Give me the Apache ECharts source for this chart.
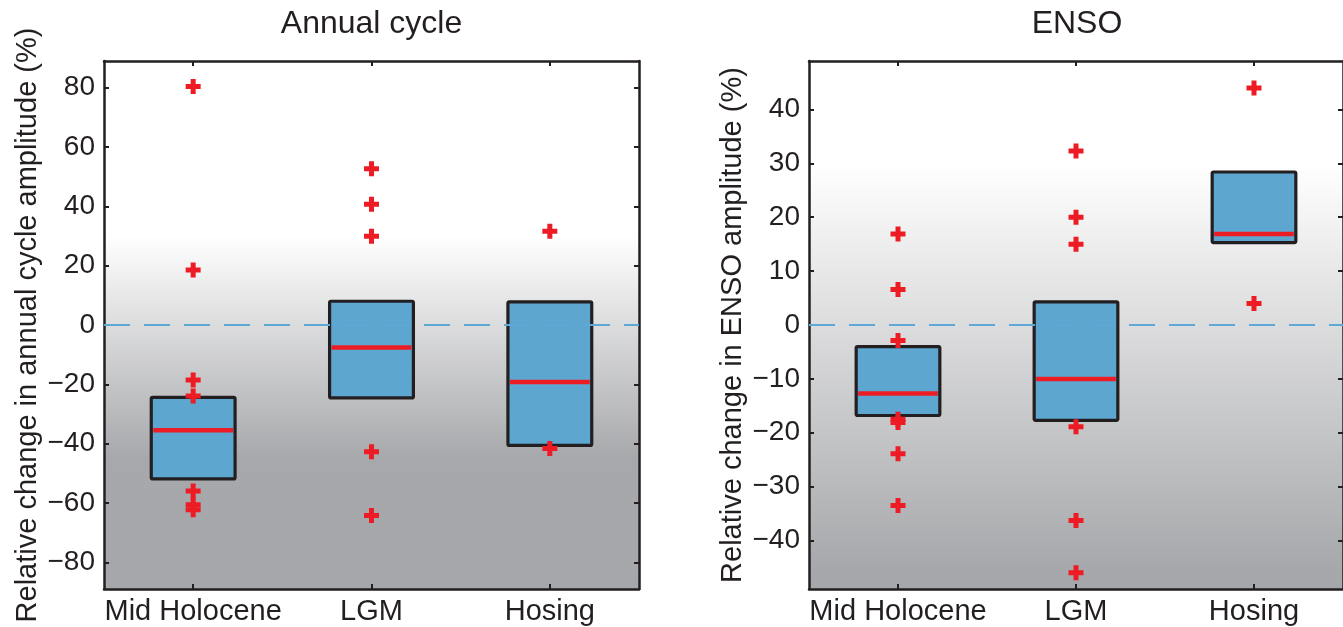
<!DOCTYPE html>
<html>
<head>
<meta charset="utf-8">
<title>Annual cycle and ENSO amplitude changes</title>
<script src="https://cdn.jsdelivr.net/npm/echarts@6/dist/echarts.min.js"></script>
<style>
  html, body { margin: 0; padding: 0; background: #ffffff; }
  #chart { width: 1343px; height: 627px; }
</style>
</head>
<body>
<div id="chart"></div>
<script>
// Experiments shown on the x axis of both panels
const categories = ['Mid Holocene', 'LGM', 'Hosing'];

// Annual cycle amplitude change (%): box = [lower quartile, median, upper quartile]
const annualBoxes = [
  [-51.9, -35.5, -24.4],
  [-24.6, -7.6, 8.0],
  [-40.6, -19.2, 7.8]
];
// Individual model values drawn outside the boxes
const annualMidHolocene = [80.4, 18.5, -18.5, -23.9, -56.0, -60.6, -62.3];
const annualLGM = [52.7, 40.7, 29.9, -42.7, -64.2];
const annualHosing = [31.6, -41.6];

// ENSO amplitude change (%)
const ensoBoxes = [
  [-16.8, -12.7, -4.0],
  [-17.7, -10.0, 4.3],
  [15.3, 16.9, 28.4]
];
const ensoMidHolocene = [16.9, 6.6, -2.9, -17.5, -18.1, -23.9, -33.5];
const ensoLGM = [32.3, 20.0, 15.0, -18.9, -36.3, -46.0];
const ensoHosing = [44.0, 4.0];

// Axis extents and tick labels
const annualRange = [-89, 89];
const annualTicks = [-80, -60, -40, -20, 0, 20, 40, 60, 80];
const ensoRange = [-49, 49];
const ensoTicks = [-40, -30, -20, -10, 0, 10, 20, 30, 40];

// Background shading runs from white at +30 % to grey at -45 %
const SHADE_TOP = 30;
const SHADE_BOTTOM = -45;

const INK = '#231f20';
const BOX_FILL = '#5ca6d0';
const RED = '#ed1c24';
const ZERO_LINE = '#5ea8d6';
const FONT = '"Liberation Sans", Arial, Helvetica, sans-serif';
const PLUS = 'path://M5,0H10V5H15V10H10V15H5V10H0V5H5Z';

function shading(range) {
  const span = range[1] - range[0];
  const f0 = (range[1] - SHADE_TOP) / span;
  const f1 = Math.min(1, (range[1] - SHADE_BOTTOM) / span);
  return {
    type: 'linear', x: 0, y: 0, x2: 0, y2: 1,
    colorStops: [
      { offset: 0, color: '#ffffff' },
      { offset: f0, color: '#ffffff' },
      { offset: f1, color: '#a7a8ab' },
      { offset: 1, color: '#a6a7aa' }
    ]
  };
}

function minusSign(v) {
  return String(v).replace('-', '\u2212');
}

function outlierPoints(groups) {
  const pts = [];
  groups.forEach((vals, i) => vals.forEach(v => pts.push([i, v])));
  return pts;
}

function boxRows(boxes) {
  return boxes.map((b, i) => [i, b[0], b[1], b[2]]);
}

// Draws quartile box with its median bar through the axis scales
function renderBox(params, api) {
  const idx = api.value(0);
  const low = api.coord([idx, api.value(1)]);
  const mid = api.coord([idx, api.value(2)]);
  const high = api.coord([idx, api.value(3)]);
  const band = api.size([1, 0])[0];
  const w = band * 0.47;
  const x0 = low[0] - w / 2;
  return {
    type: 'group',
    children: [
      {
        type: 'rect',
        shape: { x: x0, y: high[1], width: w, height: low[1] - high[1], r: 1.5 },
        style: { fill: BOX_FILL, stroke: INK, lineWidth: 3.2, lineJoin: 'round' }
      },
      {
        type: 'line',
        shape: { x1: x0 + 2, y1: mid[1], x2: x0 + w - 2, y2: mid[1] },
        style: { stroke: RED, lineWidth: 4.5 }
      }
    ]
  };
}

function bottomAxis(gridIndex) {
  return {
    type: 'category', gridIndex, data: categories, position: 'bottom',
    boundaryGap: true,
    axisLine: { show: true, onZero: false, lineStyle: { color: INK, width: 2.5 } },
    axisTick: { show: true, inside: true, alignWithLabel: true, length: 5, lineStyle: { color: INK, width: 2 } },
    axisLabel: { color: INK, fontSize: 29, fontFamily: FONT, margin: 8, interval: 0 },
    splitLine: { show: false }
  };
}

function topAxis(gridIndex) {
  return {
    type: 'category', gridIndex, data: categories, position: 'top',
    boundaryGap: true,
    axisLine: { show: true, onZero: false, lineStyle: { color: INK, width: 2.5 } },
    axisTick: { show: true, inside: true, alignWithLabel: true, length: 5, lineStyle: { color: INK, width: 2 } },
    axisLabel: { show: false },
    splitLine: { show: false }
  };
}

function leftAxis(gridIndex, range, ticks, name) {
  return {
    type: 'value', gridIndex, position: 'left', min: range[0], max: range[1],
    name, nameLocation: 'middle', nameRotate: 90, nameGap: 62,
    nameTextStyle: { color: INK, fontSize: 29, fontFamily: FONT },
    axisLine: { show: true, onZero: false, lineStyle: { color: INK, width: 2.5 } },
    axisTick: { show: true, inside: true, length: 5, customValues: ticks, lineStyle: { color: INK, width: 2 } },
    axisLabel: { color: INK, fontSize: 28, fontFamily: FONT, margin: 9, customValues: ticks, formatter: minusSign },
    splitLine: { show: false }
  };
}

function rightAxis(gridIndex, range, ticks) {
  return {
    type: 'value', gridIndex, position: 'right', min: range[0], max: range[1],
    axisLine: { show: true, onZero: false, lineStyle: { color: INK, width: 2.5 } },
    axisTick: { show: true, inside: true, length: 5, customValues: ticks, lineStyle: { color: INK, width: 2 } },
    axisLabel: { show: false },
    splitLine: { show: false }
  };
}

function panelSeries(axisIndex, boxes, outliers) {
  return [
    {
      type: 'scatter', xAxisIndex: axisIndex, yAxisIndex: axisIndex, data: [], z: 1,
      silent: true,
      markLine: {
        silent: true, symbol: 'none', label: { show: false },
        lineStyle: { color: ZERO_LINE, width: 2, type: [26, 14] },
        data: [{ yAxis: 0 }]
      }
    },
    {
      type: 'custom', xAxisIndex: axisIndex, yAxisIndex: axisIndex, z: 2,
      renderItem: renderBox,
      encode: { x: 0, y: [1, 2, 3] },
      data: boxRows(boxes)
    },
    {
      type: 'scatter', xAxisIndex: axisIndex, yAxisIndex: axisIndex, z: 3,
      symbol: PLUS, symbolSize: 15,
      itemStyle: { color: RED, opacity: 1 },
      data: outlierPoints(outliers)
    }
  ];
}

const chart = echarts.init(document.getElementById('chart'), null, { renderer: 'canvas' });

chart.setOption({
  animation: false,
  backgroundColor: '#ffffff',
  textStyle: { fontFamily: FONT },
  title: [
    { text: 'Annual cycle', left: 371.5, top: 8, padding: 0, textAlign: 'center',
      textStyle: { color: INK, fontSize: 32, fontWeight: 'normal', fontFamily: FONT } },
    { text: 'ENSO', left: 1077, top: 8, padding: 0, textAlign: 'center',
      textStyle: { color: INK, fontSize: 32, fontWeight: 'normal', fontFamily: FONT } }
  ],
  grid: [
    { left: 104, top: 61, width: 535, height: 528, show: true, borderWidth: 0,
      backgroundColor: shading(annualRange) },
    { left: 809, top: 61, width: 536, height: 528, show: true, borderWidth: 0,
      backgroundColor: shading(ensoRange) }
  ],
  xAxis: [bottomAxis(0), topAxis(0), bottomAxis(1), topAxis(1)],
  yAxis: [
    leftAxis(0, annualRange, annualTicks, 'Relative change in annual cycle amplitude (%)'),
    rightAxis(0, annualRange, annualTicks),
    leftAxis(1, ensoRange, ensoTicks, 'Relative change in ENSO amplitude (%)'),
    rightAxis(1, ensoRange, ensoTicks)
  ],
  series: [
    ...panelSeries(0, annualBoxes, [annualMidHolocene, annualLGM, annualHosing]),
    ...panelSeries(2, ensoBoxes, [ensoMidHolocene, ensoLGM, ensoHosing])
  ]
});
</script>
</body>
</html>
